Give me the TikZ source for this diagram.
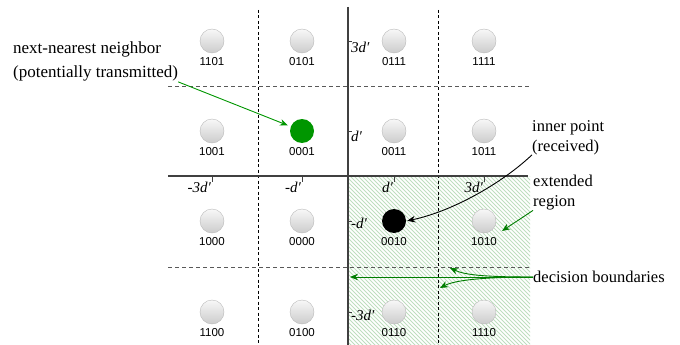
\documentclass[tikz,border=0pt]{standalone}
\usepackage{fontspec}
\setmainfont{Liberation Serif}
\setsansfont{Liberation Sans}
\usetikzlibrary{arrows.meta}
\definecolor{ptgreen}{RGB}{0,150,0}
\definecolor{arrgreen}{RGB}{0,125,0}
\definecolor{hatchgreen}{RGB}{190,222,190}
\begin{document}
\begin{tikzpicture}[x=1pt, y=-1pt, >={Stealth[length=8pt, width=6.5pt, inset=2.5pt]},
    pt/.style={circle, minimum size=24pt, inner sep=0pt, draw=gray!55, top color=gray!6, bottom color=gray!40},
    lbl/.style={font=\sffamily\fontsize{11.5}{13}\selectfont, inner sep=0pt},
    note/.style={font=\fontsize{16.5}{20}\selectfont, align=left, inner sep=0pt},
    tk/.style={font=\fontsize{15}{17}\selectfont\itshape, inner sep=1pt},
    axis/.style={black!75, line width=1.1pt},
    sepv/.style={black, line width=0.9pt, dash pattern=on 3pt off 2.5pt},
    seph/.style={black!65, line width=0.9pt, dash pattern=on 4pt off 3pt}]
    \useasboundingbox (0,0) rectangle (680,345);
    \begin{scope}
        \clip (348,176) rectangle (530,345);
        \foreach \s in {140,144,...,535} \draw[hatchgreen, line width=0.9pt] (\s,170) -- ++(190,190);
    \end{scope}
    \draw[sepv] (258,10) -- (258,345);
    \draw[sepv] (438,10) -- (438,345);
    \draw[seph] (168,86) -- (530,86);
    \draw[seph] (168,267) -- (530,267);
    \draw[axis] (168,176) -- (528,176);
    \draw[axis] (348,7) -- (348,345);
    \foreach \x/\t in {212/{-3d′},302/{-d′},394/{d′},484/{3d′}} {
        \draw[axis, line width=0.8pt] (\x,176) -- (\x,182);
        \node[tk, anchor=east] (hx\x) at (\x,187) {\t};
    }
    \foreach \y/\t/\o in {41/{3d′}/6,131/{d′}/5,221/{-d′}/2,312/{-3d′}/3} {
        \draw[axis, line width=0.8pt] (348,\y) -- (352,\y);
        \node[tk, anchor=west] (vy\y) at (350,\y+\o) {\t};
    }
    \foreach \c/\x/\y in {1101/212/41, 0101/302/41, 0111/394/41, 1111/484/41,
                          1001/212/131, 0011/394/131, 1011/484/131,
                          1000/212/221, 0000/302/221, 1010/484/221,
                          1100/212/312, 0100/302/312, 0110/394/312, 1110/484/312} {
        \node[pt] (p\c) at (\x,\y) {};
        \node[lbl] (l\c) at (\x,\y+21) {\c};
    }
    \node[circle, minimum size=24pt, inner sep=0pt, fill=ptgreen] (p0001) at (302,131) {};
    \node[lbl] (l0001) at (302,152) {0001};
    \node[circle, minimum size=24pt, inner sep=0pt, fill=black] (p0010) at (394,221) {};
    \node[lbl] (l0010) at (394,242) {0010};
    \node[note, font=\fontsize{17}{24}\selectfont, anchor=north west] (nnn) at (13,42) {next-nearest neighbor\\(potentially transmitted)};
    \node[note, anchor=north west] (inner) at (532,120) {inner point\\(received)};
    \node[note, anchor=north west] (ext) at (533,175) {extended\\region};
    \node[note, anchor=west] (dec) at (533,277) {decision boundaries};
    \coordinate (regpt) at (502,231);
    \coordinate (hb) at (350,277);
    \coordinate (hd) at (450,268);
    \coordinate (vd) at (440,288);
    \draw[->, ptgreen, line width=0.9pt, shorten >=3pt] (nnn.south east) -- (p0001);
    \draw[->, black, line width=0.9pt, shorten >=1pt] (inner.south west) .. controls (500,185) and (450,212) .. (p0010.east);
    \draw[->, arrgreen, line width=0.9pt] (ext.south west) -- (regpt);
    \draw[->, arrgreen, line width=0.9pt] (dec.west) -- (hb);
    \draw[->, arrgreen, line width=0.9pt] (dec.west) .. controls (485,277) and (465,275) .. (hd);
    \draw[->, arrgreen, line width=0.9pt] (dec.west) .. controls (485,277) and (455,280) .. (vd);
\end{tikzpicture}
\end{document}
